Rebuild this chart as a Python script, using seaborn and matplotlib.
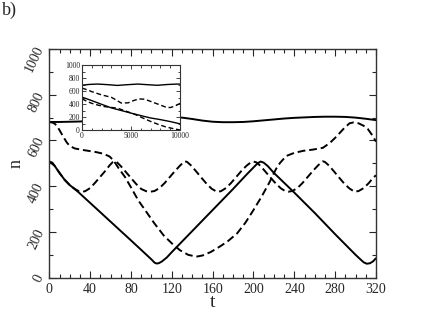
import matplotlib
matplotlib.use("Agg")
import matplotlib.pyplot as plt
import seaborn as sns
from matplotlib.ticker import MultipleLocator

# main panel: flat solid curve near 700
t_top = [0, 10, 20, 30, 40, 60, 80, 100, 120, 130, 140, 150, 160, 170, 180, 190, 200,
         210, 220, 230, 240, 250, 260, 270, 280, 290, 300, 310, 320]
n_top = [681, 681, 682, 683, 686, 692, 698, 702, 702, 700, 694, 687, 682, 680, 680, 681, 684,
         688, 692, 696, 699, 701, 703, 704, 704, 703, 700, 695, 689]

# main panel: solid triangle-like curve
t_tri = [0, 3, 6, 10, 15, 20, 28, 40, 60, 80, 94, 100, 103, 105, 107, 110, 115, 120, 140,
         160, 180, 193, 200, 204, 207, 210, 214, 220, 240, 260, 280, 300, 305, 308, 311,
         314, 317, 320]
n_tri = [508, 503, 484, 458, 428, 405, 376, 327, 245, 163, 105, 80, 66, 62, 63, 70, 88, 112, 204,
         296, 388, 450, 482, 500, 508, 503, 488, 458, 372, 283, 190, 100, 79, 67, 61,
         63, 71, 85]

# main panel: dashed curve starting at 680
t_dA = [0, 4, 7, 10, 14, 17, 20, 25, 35, 45, 53, 59, 63, 68, 74, 80, 87, 95, 103, 112, 120,
        128, 136, 144, 150, 158, 167, 175, 184, 192, 200, 208, 216, 222, 226, 232, 240,
        249, 258, 268, 275, 281, 288, 294, 298, 303, 308, 312, 316, 320]
n_dA = [681, 677, 667, 645, 614, 592, 576, 565, 557, 550, 542, 530, 512, 478, 441, 395, 339,
        288, 237, 185, 150, 120, 100, 92, 97, 112, 136, 160, 194, 240, 296, 355, 420, 475,
        502, 532, 546, 555, 560, 568, 590, 616, 650, 675, 679, 675, 664, 650, 625, 595]

# main panel: dashed oscillating curve
t_dB = [0, 5, 10, 15, 20, 25, 29, 32, 35, 40, 45, 50, 55, 59, 62, 64, 66, 70, 75, 80, 85, 90,
        95, 99, 103, 108, 113, 118, 123, 128, 131, 133, 135, 139, 144, 149, 154, 159, 164,
        168, 173, 178, 183, 188, 193, 197, 200, 203, 207, 212, 217, 222, 227, 231, 234, 238,
        243, 248, 253, 258, 263, 266, 268, 270, 274, 279, 284, 289, 294, 299, 303, 308, 313,
        317, 320]
n_dB = [508, 490, 458, 428, 405, 388, 378, 376, 378, 392, 416, 442, 468, 491, 505, 509, 506,
        488, 462, 436, 410, 388, 378, 376, 379, 392, 414, 440, 466, 490, 503, 509, 506, 490,
        464, 437, 411, 389, 376, 378, 392, 414, 440, 466, 489, 503, 508, 504, 488, 462, 436,
        411, 390, 379, 376, 379, 392, 414, 440, 466, 490, 503, 509, 506, 490, 464, 437, 411,
        390, 376, 379, 392, 414, 436, 448]

# inset curves (long time)
x_in_top = [0, 800, 1600, 2600, 3600, 4600, 5700, 6700, 7700, 8700, 9700, 10000]
y_in_top = [690, 702, 707, 698, 686, 697, 707, 697, 688, 700, 707, 706]
x_in_dA = [0, 500, 1000, 2000, 3000, 3500, 4000, 4700, 5300, 5800, 6400, 7000, 7800, 8500,
           9000, 9500, 10000]
y_in_dA = [645, 620, 590, 540, 503, 460, 415, 418, 455, 478, 474, 440, 395, 355, 345, 370, 410]
x_in_sol = [0, 300, 1000, 2000, 3000, 4000, 5000, 6000, 7000, 8000, 9000, 10000]
y_in_sol = [505, 490, 452, 395, 340, 300, 260, 222, 185, 160, 130, 95]
x_in_dB = [0, 500, 1000, 1700, 2300, 3000, 3700, 4500, 5400, 6200, 7000, 7800, 8500, 9200,
           10000]
y_in_dB = [480, 440, 410, 380, 360, 348, 332, 290, 240, 185, 132, 85, 50, 25, 0]

sns.set_style("ticks")
plt.rcParams['font.family'] = ['Liberation Serif', 'DejaVu Serif']
plt.rcParams['axes.edgecolor'] = '#333333'

dash = (0, (4, 2))
fig = plt.figure(figsize=(4.23, 3.27), dpi=100)
ax = fig.add_axes([0.1166, 0.1508, 0.7723, 0.6993])

sns.lineplot(x=t_top, y=n_top, ax=ax, color='black', lw=1.4)
sns.lineplot(x=t_tri, y=n_tri, ax=ax, color='black', lw=1.4)
sns.lineplot(x=t_dA, y=n_dA, ax=ax, color='black', lw=1.4, linestyle=dash)
sns.lineplot(x=t_dB, y=n_dB, ax=ax, color='black', lw=1.4, linestyle=dash)

ax.set_xlim(0, 320)
ax.set_ylim(0, 1000)
ax.xaxis.set_major_locator(MultipleLocator(40))
ax.xaxis.set_minor_locator(MultipleLocator(10))
ax.yaxis.set_major_locator(MultipleLocator(200))
ax.yaxis.set_minor_locator(MultipleLocator(100))
ax.tick_params(which='both', direction='in', top=True, right=True, labelsize=10, width=0.8)
ax.tick_params(which='major', length=5)
ax.tick_params(which='minor', length=3)
ax.tick_params(axis='y', pad=2)
for lab in ax.get_yticklabels():
    lab.set_rotation(65)
ax.set_xlabel('t', fontsize=14, labelpad=-1)
ax.set_ylabel('n', fontsize=13)
ax.yaxis.set_label_coords(-0.075, 0.5)
for sp in ax.spines.values():
    sp.set_linewidth(1.0)

ins = fig.add_axes([0.1939, 0.6024, 0.2317, 0.1988])
ins.set_facecolor('white')
sns.lineplot(x=x_in_top, y=y_in_top, ax=ins, color='black', lw=1.0)
sns.lineplot(x=x_in_dA, y=y_in_dA, ax=ins, color='black', lw=1.0, linestyle=(0, (3.5, 2)))
sns.lineplot(x=x_in_sol, y=y_in_sol, ax=ins, color='black', lw=1.0)
sns.lineplot(x=x_in_dB, y=y_in_dB, ax=ins, color='black', lw=1.0, linestyle=(0, (3.5, 2)))
ins.set_xlim(0, 10000)
ins.set_ylim(0, 1000)
ins.xaxis.set_major_locator(MultipleLocator(5000))
ins.xaxis.set_minor_locator(MultipleLocator(1000))
ins.yaxis.set_major_locator(MultipleLocator(200))
ins.yaxis.set_minor_locator(MultipleLocator(100))
ins.tick_params(which='both', direction='in', top=True, right=True, labelsize=5.5,
                width=0.6, pad=1.5)
ins.tick_params(which='major', length=3)
ins.tick_params(which='minor', length=1.8)
for sp in ins.spines.values():
    sp.set_linewidth(0.8)

fig.text(0.005, 0.995, 'b)', fontsize=13, va='top', ha='left')

fig.savefig('out.png', dpi=100)
